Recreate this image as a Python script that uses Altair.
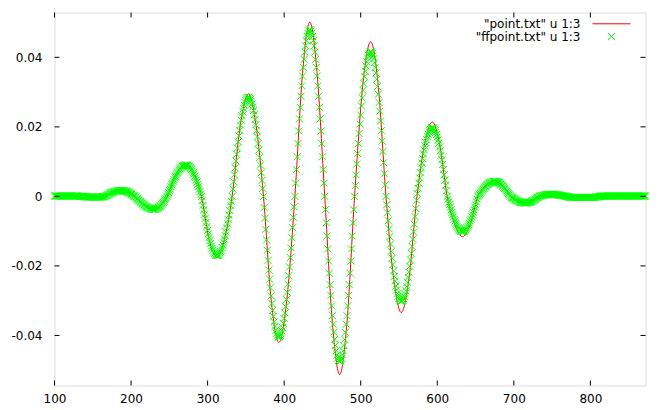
import altair as alt
import pandas as pd

# ---- axis ticks / legend text ----
x_ticks = [100, 200, 300, 400, 500, 600, 700, 800]
y_ticks = [-0.04, -0.02, 0.0, 0.02, 0.04]
series_names = ['"point.txt" u 1:3', '"ffpoint.txt" u 1:3']
x_domain = [100, 872]
y_domain = [-0.0544, 0.0529]

# ---- series 1: "point.txt" (red line), key points ----
red_x = [100, 130, 145, 160, 166, 176, 187, 196, 205, 218, 230.5, 239, 247,
         259.5, 272, 282, 292, 302, 312.5, 322, 332, 343, 353.5, 363, 373,
         383, 393, 403.5, 414, 424, 433.5, 443, 453, 463, 472.5, 482, 492,
         502.5, 513, 523, 533, 543, 553, 563, 573.5, 583.5, 593.5, 603, 613,
         623, 633, 643, 653, 664, 675, 685, 695.5, 705, 715, 724, 733,
         741.5, 750, 759, 768, 775, 790, 805, 812, 820, 872]
red_y = [0.0001, 0.0001, -0.0002, -0.0002, 0.0, 0.0012, 0.0017, 0.0012, 0.0,
         -0.0026, -0.0037, -0.0026, 0.0, 0.0067, 0.0095, 0.0067, 0.0,
         -0.0124, -0.0175, -0.0124, 0.0, 0.0209, 0.0295, 0.0209, 0.0,
         -0.0297, -0.0420, -0.0297, 0.0, 0.0354, 0.0501, 0.0354, 0.0,
         -0.0363, -0.0513, -0.0363, 0.0, 0.0315, 0.0445, 0.0315, 0.0,
         -0.0236, -0.0334, -0.0236, 0.0, 0.0151, 0.0214, 0.0151, 0.0,
         -0.0082, -0.0116, -0.0082, 0.0, 0.0033, 0.0046, 0.0033, 0.0,
         -0.0013, -0.0019, -0.0013, 0.0, 0.0004, 0.0006, 0.0004, 0.0,
         -0.0002, -0.0003, -0.0002, 0.0, 0.0001, 0.0001]

# ---- series 2: "ffpoint.txt" (green x markers), one sample per unit from x=100 ----
green_x_start = 100
green_y = (
    [0.0001] * 20 +                                                     # 100-119
    [0.0001] * 12 + [0.0] * 8 +                                         # 120-139
    [-0.0001, -0.0001] + [-0.0002] * 18 +                               # 140-159
    [-0.0002, -0.0002, -0.0001, -0.0001, -0.0001, -0.0001, 0.0, 0.0001, 0.0003, 0.0004,
     0.0005, 0.0006, 0.0007, 0.0009, 0.0010, 0.0011, 0.0012, 0.0012, 0.0013, 0.0014] +   # 160-179
    [0.0015, 0.0015, 0.0016, 0.0016, 0.0017, 0.0017, 0.0017, 0.0017, 0.0017, 0.0017,
     0.0016, 0.0016, 0.0015, 0.0015, 0.0014, 0.0013, 0.0012, 0.0011, 0.0010, 0.0009] +   # 180-199
    [0.0007, 0.0006, 0.0004, 0.0003, 0.0001, 0.0, -0.0002, -0.0005, -0.0007, -0.0009,
     -0.0011, -0.0013, -0.0015, -0.0017, -0.0019, -0.0021, -0.0023, -0.0025, -0.0027, -0.0028] +  # 200-219
    [-0.0030, -0.0031, -0.0032, -0.0033, -0.0034, -0.0035, -0.0036, -0.0036, -0.0037, -0.0037,
     -0.0037, -0.0037, -0.0037, -0.0036, -0.0035, -0.0034, -0.0032, -0.0030, -0.0028, -0.0026] +  # 220-239
    [-0.0023, -0.0020, -0.0017, -0.0014, -0.0010, -0.0007, -0.0004, 0.0, 0.0006, 0.0011,
     0.0017, 0.0022, 0.0028, 0.0033, 0.0038, 0.0043, 0.0048, 0.0053, 0.0057, 0.0062] +   # 240-259
    [0.0066, 0.0069, 0.0073, 0.0076, 0.0079, 0.0081, 0.0084, 0.0086, 0.0087, 0.0088,
     0.0089, 0.0090, 0.0090, 0.0090, 0.0089, 0.0087, 0.0086, 0.0083, 0.0080, 0.0077] +   # 260-279
    [0.0073, 0.0068, 0.0064, 0.0058, 0.0053, 0.0047, 0.0041, 0.0034, 0.0028, 0.0021,
     0.0014, 0.0007, 0.0, -0.0013, -0.0026, -0.0039, -0.0051, -0.0063, -0.0075, -0.0087] +  # 280-299
    [-0.0098, -0.0108, -0.0118, -0.0127, -0.0135, -0.0143, -0.0149, -0.0155, -0.0160, -0.0164,
     -0.0167, -0.0169, -0.0170, -0.0170, -0.0169, -0.0167, -0.0163, -0.0159, -0.0154, -0.0147] +  # 300-319
    [-0.0140, -0.0132, -0.0123, -0.0113, -0.0102, -0.0091, -0.0079, -0.0067, -0.0054, -0.0041,
     -0.0027, -0.0014, 0.0, 0.0021, 0.0042, 0.0062, 0.0082, 0.0102, 0.0121, 0.0139] +    # 320-339
    [0.0157, 0.0174, 0.0190, 0.0205, 0.0219, 0.0232, 0.0243, 0.0253, 0.0262, 0.0270,
     0.0276, 0.0280, 0.0283, 0.0285, 0.0285, 0.0283, 0.0279, 0.0274, 0.0266, 0.0257] +   # 340-359
    [0.0247, 0.0235, 0.0221, 0.0206, 0.0189, 0.0171, 0.0152, 0.0133, 0.0112, 0.0090,
     0.0068, 0.0046, 0.0023, 0.0, -0.0032, -0.0063, -0.0095, -0.0125, -0.0155, -0.0184] +  # 360-379
    [-0.0212, -0.0238, -0.0263, -0.0286, -0.0308, -0.0328, -0.0345, -0.0361, -0.0374, -0.0385,
     -0.0394, -0.0400, -0.0404, -0.0405, -0.0404, -0.0400, -0.0395, -0.0387, -0.0377, -0.0365] +  # 380-399
    [-0.0351, -0.0335, -0.0317, -0.0297, -0.0276, -0.0253, -0.0228, -0.0203, -0.0176, -0.0148,
     -0.0119, -0.0090, -0.0060, -0.0030, 0.0, 0.0038, 0.0077, 0.0114, 0.0152, 0.0188] +  # 400-419
    [0.0223, 0.0256, 0.0288, 0.0318, 0.0346, 0.0371, 0.0394, 0.0415, 0.0433, 0.0448,
     0.0460, 0.0469, 0.0476, 0.0479, 0.0479, 0.0476, 0.0469, 0.0460, 0.0448, 0.0433] +   # 420-439
    [0.0415, 0.0394, 0.0371, 0.0346, 0.0318, 0.0288, 0.0256, 0.0223, 0.0188, 0.0152,
     0.0114, 0.0077, 0.0038, 0.0, -0.0038, -0.0076, -0.0114, -0.0151, -0.0186, -0.0221] +  # 440-459
    [-0.0254, -0.0285, -0.0315, -0.0343, -0.0368, -0.0391, -0.0411, -0.0429, -0.0444, -0.0456,
     -0.0465, -0.0472, -0.0475, -0.0475, -0.0472, -0.0466, -0.0456, -0.0444, -0.0429, -0.0411] +  # 460-479
    [-0.0391, -0.0368, -0.0343, -0.0315, -0.0285, -0.0254, -0.0221, -0.0186, -0.0151, -0.0114,
     -0.0076, -0.0038, 0.0, 0.0031, 0.0062, 0.0093, 0.0123, 0.0152, 0.0181, 0.0208] +   # 480-499
    [0.0234, 0.0260, 0.0283, 0.0305, 0.0325, 0.0344, 0.0360, 0.0375, 0.0387, 0.0398,
     0.0406, 0.0411, 0.0415, 0.0416, 0.0415, 0.0411, 0.0404, 0.0396, 0.0384, 0.0371] +   # 500-519
    [0.0355, 0.0337, 0.0316, 0.0294, 0.0270, 0.0245, 0.0217, 0.0189, 0.0159, 0.0129,
     0.0097, 0.0065, 0.0033, 0.0, -0.0024, -0.0047, -0.0070, -0.0093, -0.0116, -0.0137] +  # 520-539
    [-0.0158, -0.0178, -0.0196, -0.0214, -0.0230, -0.0244, -0.0258, -0.0269, -0.0279, -0.0287,
     -0.0294, -0.0298, -0.0301, -0.0302, -0.0301, -0.0298, -0.0294, -0.0288, -0.0280, -0.0271] +  # 540-559
    [-0.0260, -0.0247, -0.0233, -0.0218, -0.0201, -0.0183, -0.0164, -0.0144, -0.0123, -0.0102,
     -0.0080, -0.0058, -0.0035, -0.0011, 0.0008, 0.0023, 0.0038, 0.0053, 0.0068, 0.0083] +  # 560-579
    [0.0096, 0.0109, 0.0122, 0.0134, 0.0145, 0.0155, 0.0164, 0.0172, 0.0179, 0.0185,
     0.0190, 0.0193, 0.0196, 0.0197, 0.0197, 0.0196, 0.0193, 0.0189, 0.0184, 0.0178] +   # 580-599
    [0.0171, 0.0162, 0.0153, 0.0142, 0.0131, 0.0118, 0.0105, 0.0092, 0.0077, 0.0062,
     0.0047, 0.0032, 0.0016, 0.0, -0.0008, -0.0016, -0.0024, -0.0031, -0.0039, -0.0046] +  # 600-619
    [-0.0053, -0.0059, -0.0066, -0.0071, -0.0077, -0.0082, -0.0086, -0.0090, -0.0093, -0.0096,
     -0.0098, -0.0100, -0.0101, -0.0101, -0.0101, -0.0100, -0.0098, -0.0096, -0.0093, -0.0090] +  # 620-639
    [-0.0086, -0.0082, -0.0077, -0.0071, -0.0066, -0.0059, -0.0053, -0.0046, -0.0039, -0.0031,
     -0.0024, -0.0016, -0.0008, 0.0, 0.0003, 0.0006, 0.0009, 0.0012, 0.0015, 0.0018] +   # 640-659
    [0.0021, 0.0023, 0.0026, 0.0028, 0.0030, 0.0033, 0.0034, 0.0036, 0.0038, 0.0039,
     0.0040, 0.0041, 0.0042, 0.0043, 0.0043, 0.0043, 0.0043, 0.0042, 0.0042, 0.0041] +   # 660-679
    [0.0040, 0.0039, 0.0037, 0.0035, 0.0033, 0.0031, 0.0029, 0.0026, 0.0023, 0.0021,
     0.0018, 0.0015, 0.0011, 0.0008, 0.0005, 0.0002, -0.0001, -0.0002, -0.0004, -0.0005] +  # 680-699
    [-0.0007, -0.0008, -0.0010, -0.0011, -0.0012, -0.0013, -0.0014, -0.0015, -0.0016, -0.0017,
     -0.0017, -0.0018, -0.0018, -0.0019, -0.0019, -0.0019, -0.0019, -0.0019, -0.0018, -0.0018] +  # 700-719
    [-0.0017, -0.0016, -0.0016, -0.0015, -0.0013, -0.0012, -0.0011, -0.0010, -0.0008, -0.0006,
     -0.0005, -0.0003, -0.0002, 0.0, 0.0001, 0.0001, 0.0002, 0.0002, 0.0003, 0.0003] +   # 720-739
    [0.0004, 0.0004, 0.0005, 0.0005, 0.0005, 0.0006, 0.0006, 0.0006, 0.0006, 0.0006,
     0.0006, 0.0006, 0.0006, 0.0006, 0.0006, 0.0005, 0.0005, 0.0005, 0.0004, 0.0004] +   # 740-759
    [0.0003, 0.0003, 0.0003, 0.0002, 0.0002, 0.0002, 0.0001, 0.0001, 0.0, 0.0,
     -0.0001, -0.0001, -0.0002, -0.0002, -0.0003, -0.0003, -0.0003, -0.0003, -0.0003, -0.0003] +  # 760-779
    [-0.0003] * 20 +                                                    # 780-799
    [-0.0003] * 7 + [-0.0002] * 3 + [-0.0001] * 2 + [0.0] * 2 + [0.0001] * 6 +   # 800-819
    [0.0001] * 20 +                                                     # 820-839
    [0.0001] * 20 +                                                     # 840-859
    [0.0001] * 13                                                       # 860-872
)
green_x = [green_x_start + i for i in range(len(green_y))]

# ---- tables ----
red_df = pd.DataFrame({"x": red_x, "y": red_y})
green_df = pd.DataFrame({"x": green_x, "y": green_y})
xt_df = pd.DataFrame({"x": x_ticks})
yt_df = pd.DataFrame({"y": y_ticks})

W, H = 591, 373
FONT = "DejaVu Sans"
RED = "#ff0000"
GREEN = "#00ff00"
XPATH = "M-1,-1L1,1M-1,1L1,-1"

xs = alt.Scale(domain=x_domain, nice=False, zero=False)
ys = alt.Scale(domain=y_domain, nice=False, zero=False)

x_axis = alt.Axis(values=x_ticks, format="d", ticks=False, tickSize=0, domain=False,
                  grid=False, title=None, labelFont=FONT, labelFontSize=12,
                  labelColor="black", labelPadding=17, labelBaseline="alphabetic",
                  labelFlush=False, labelOverlap=False)
y_axis = alt.Axis(values=y_ticks, ticks=False, tickSize=0, domain=False, grid=False,
                  title=None, labelFont=FONT, labelFontSize=12, labelColor="black",
                  labelPadding=12.5, labelOverlap=False,
                  labelExpr="replace(format(datum.value, '.2~f'), '\u2212', '-')")

X = alt.X("x:Q", scale=xs, axis=x_axis)
Y = alt.Y("y:Q", scale=ys, axis=y_axis)

red_line = alt.Chart(red_df).mark_line(color=RED, strokeWidth=1, interpolate="monotone").encode(x=X, y=Y)
green_pts = alt.Chart(green_df).mark_point(shape=XPATH, size=49, color=GREEN, filled=False,
                                           strokeWidth=1, opacity=1).encode(x=X, y=Y)

tick_len = 5
top_ticks = alt.Chart(xt_df).mark_rule(color="black", strokeWidth=1).encode(
    x=X, y=alt.value(0), y2=alt.value(tick_len))
bottom_ticks = alt.Chart(xt_df).mark_rule(color="black", strokeWidth=1).encode(
    x=X, y=alt.value(H), y2=alt.value(H - tick_len))
left_ticks = alt.Chart(yt_df).mark_rule(color="black", strokeWidth=1).encode(
    y=Y, x=alt.value(0), x2=alt.value(tick_len))
right_ticks = alt.Chart(yt_df).mark_rule(color="black", strokeWidth=1).encode(
    y=Y, x=alt.value(W), x2=alt.value(W - tick_len))

# ---- key (legend), gnuplot style: label on the left, sample on the right ----
leg1_text = alt.Chart(pd.DataFrame({"t": [series_names[0]]})).mark_text(
    align="right", baseline="alphabetic", font=FONT, fontSize=12, color="black"
).encode(x=alt.value(526), y=alt.value(15.3), text="t:N")
leg2_text = alt.Chart(pd.DataFrame({"t": [series_names[1]]})).mark_text(
    align="right", baseline="alphabetic", font=FONT, fontSize=12, color="black"
).encode(x=alt.value(526), y=alt.value(28.0), text="t:N")
leg1_line = alt.Chart(pd.DataFrame({"t": [series_names[0]]})).mark_rule(
    color=RED, strokeWidth=1
).encode(x=alt.value(538), x2=alt.value(576), y=alt.value(11.3))
leg2_pt = alt.Chart(pd.DataFrame({"t": [series_names[1]]})).mark_point(
    shape=XPATH, size=49, color=GREEN, filled=False, strokeWidth=1, opacity=1
).encode(x=alt.value(557), y=alt.value(24))

chart = alt.layer(
    red_line, green_pts,
    top_ticks, bottom_ticks, left_ticks, right_ticks,
    leg1_text, leg2_text, leg1_line, leg2_pt,
).properties(
    width=W, height=H,
    autosize=alt.AutoSizeParams(type="none"),
    padding={"left": 46.5, "top": 4.5, "right": 11.5, "bottom": 22.5},
    background="white",
).configure_view(
    stroke="black", strokeWidth=1
).configure(font=FONT)

chart.save("out.html", embed_options={"renderer": "svg", "actions": False})
